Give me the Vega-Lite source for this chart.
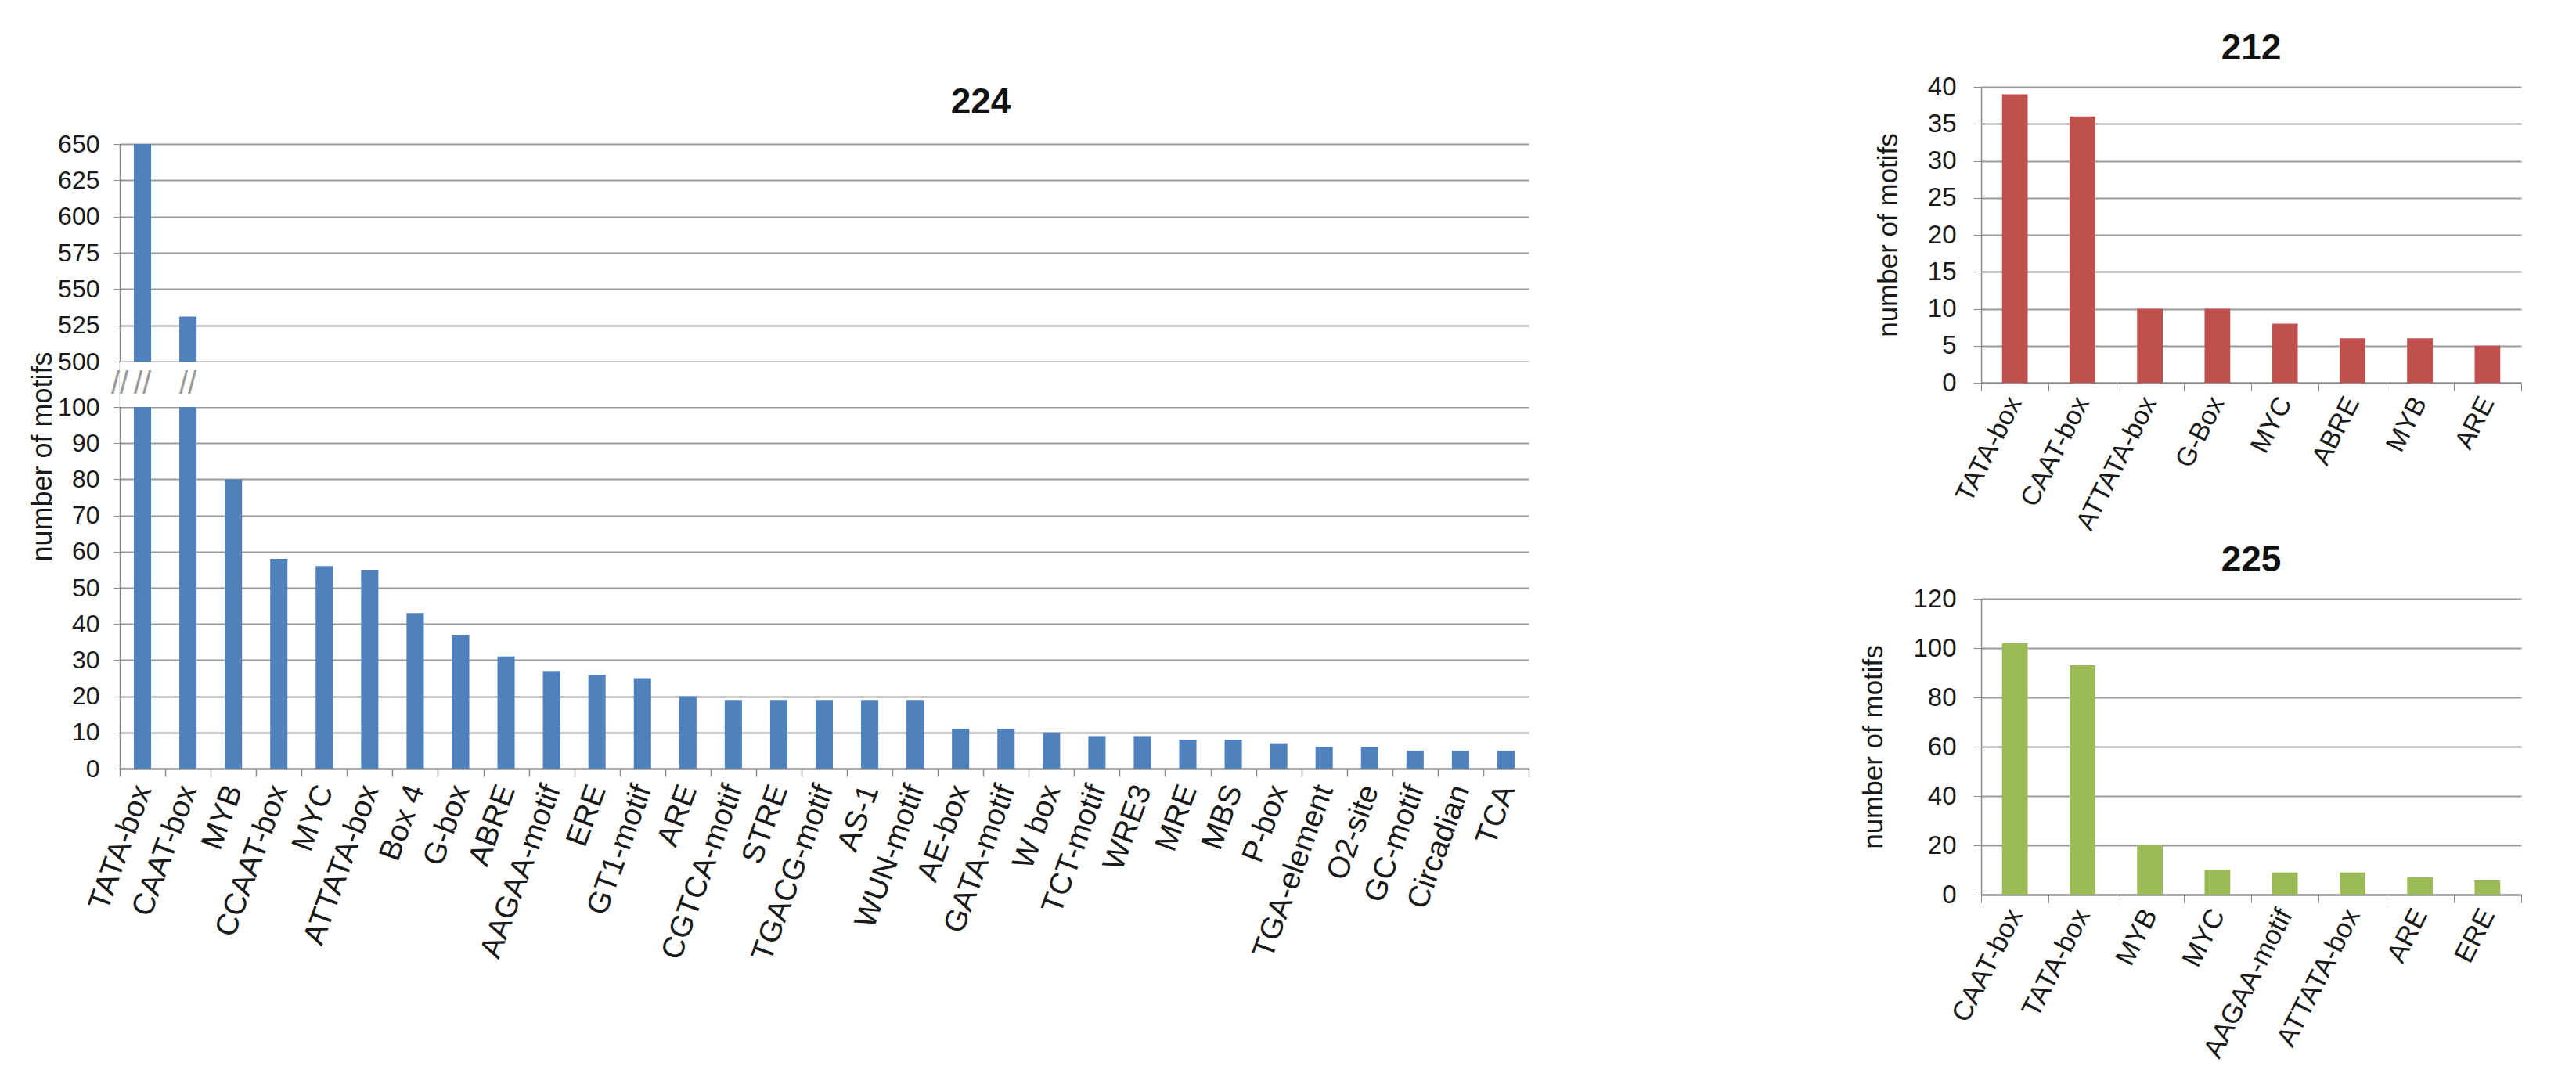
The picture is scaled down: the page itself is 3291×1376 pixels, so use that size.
{
  "$schema": "https://vega.github.io/schema/vega-lite/v6.json",
  "background": "white",
  "padding": {"left": 36, "top": 39, "right": 10, "bottom": 5},
  "config": {
    "view": {"stroke": null},
    "font": "Liberation Sans, Arial, sans-serif",
    "axis": {
      "gridColor": "#9a9a9a",
      "gridWidth": 2,
      "gridOpacity": 1,
      "domainColor": "#8a8a8a",
      "tickColor": "#8a8a8a",
      "labelColor": "#1a1a1a",
      "titleColor": "#1a1a1a",
      "titleFontWeight": "normal",
      "labelLimit": 0,
      "labelFont": "Liberation Sans, Arial, sans-serif",
      "titleFont": "Liberation Sans, Arial, sans-serif"
    },
    "title": {"fontWeight": "bold", "fontSize": 46, "color": "#111111", "font": "Liberation Sans, Arial, sans-serif"}
  },
  "datasets": {
    "p224": [
      {"motif": "TATA-box", "count": 650},
      {"motif": "CAAT-box", "count": 531},
      {"motif": "MYB", "count": 80},
      {"motif": "CCAAT-box", "count": 58},
      {"motif": "MYC", "count": 56},
      {"motif": "ATTATA-box", "count": 55},
      {"motif": "Box 4", "count": 43},
      {"motif": "G-box", "count": 37},
      {"motif": "ABRE", "count": 31},
      {"motif": "AAGAA-motif", "count": 27},
      {"motif": "ERE", "count": 26},
      {"motif": "GT1-motif", "count": 25},
      {"motif": "ARE", "count": 20},
      {"motif": "CGTCA-motif", "count": 19},
      {"motif": "STRE", "count": 19},
      {"motif": "TGACG-motif", "count": 19},
      {"motif": "AS-1", "count": 19},
      {"motif": "WUN-motif", "count": 19},
      {"motif": "AE-box", "count": 11},
      {"motif": "GATA-motif", "count": 11},
      {"motif": "W box", "count": 10},
      {"motif": "TCT-motif", "count": 9},
      {"motif": "WRE3", "count": 9},
      {"motif": "MRE", "count": 8},
      {"motif": "MBS", "count": 8},
      {"motif": "P-box", "count": 7},
      {"motif": "TGA-element", "count": 6},
      {"motif": "O2-site", "count": 6},
      {"motif": "GC-motif", "count": 5},
      {"motif": "Circadian", "count": 5},
      {"motif": "TCA", "count": 5}
    ],
    "gap": [{"lo": 100, "hi": 500}],
    "p212": [
      {"motif": "TATA-box", "count": 39},
      {"motif": "CAAT-box", "count": 36},
      {"motif": "ATTATA-box", "count": 10},
      {"motif": "G-Box", "count": 10},
      {"motif": "MYC", "count": 8},
      {"motif": "ABRE", "count": 6},
      {"motif": "MYB", "count": 6},
      {"motif": "ARE", "count": 5}
    ],
    "p225": [
      {"motif": "CAAT-box", "count": 102},
      {"motif": "TATA-box", "count": 93},
      {"motif": "MYB", "count": 20},
      {"motif": "MYC", "count": 10},
      {"motif": "AAGAA-motif", "count": 9},
      {"motif": "ATTATA-box", "count": 9},
      {"motif": "ARE", "count": 7},
      {"motif": "ERE", "count": 6}
    ]
  },
  "spacing": 422,
  "hconcat": [
    {
      "width": 1800,
      "height": 871,
      "title": {"text": "224", "offset": 0, "dx": 200, "dy": 44},
      "data": {"name": "p224"},
      "layer": [
        {
          "mark": {"type": "bar", "color": "#4F81BD", "width": {"band": 0.38}},
          "encoding": {
            "x": {
              "field": "motif", "type": "nominal", "sort": null,
              "scale": {"paddingInner": 0, "paddingOuter": 0},
              "axis": {"title": null, "labelAngle": -70, "labelFontSize": 39, "tickBand": "extent", "tickSize": 10, "domainWidth": 2, "tickWidth": 1.5, "labelPadding": 12}
            },
            "y": {
              "field": "count", "type": "quantitative",
              "scale": {"domain": [0, 100, 500, 650], "range": [871, 409, 351, 73], "nice": false, "zero": false},
              "axis": {
                "title": "number of motifs",
                "values": [0, 10, 20, 30, 40, 50, 60, 70, 80, 90, 100, 500, 525, 550, 575, 600, 625, 650],
                "labelFontSize": 32, "titleFontSize": 36, "tickSize": 8, "labelPadding": 18, "titlePadding": 0, "domainWidth": 1.5
              }
            }
          }
        },
        {
          "data": {"name": "gap"},
          "mark": {"type": "rect", "color": "white"},
          "encoding": {
            "y": {"field": "lo", "type": "quantitative"},
            "y2": {"field": "hi"}
          }
        },
        {
          "mark": {"type": "text", "fontSize": 40, "color": "#9a9a9a", "align": "center", "baseline": "middle"},
          "encoding": {
            "x": {"field": "motif", "type": "nominal", "sort": null, "bandPosition": 0},
            "y": {"datum": 300},
            "text": {"condition": {"test": "datum.motif === 'TATA-box'", "value": "//"}, "value": ""}
          }
        },
        {
          "mark": {"type": "text", "fontSize": 40, "color": "#9a9a9a", "align": "center", "baseline": "middle"},
          "encoding": {
            "x": {"field": "motif", "type": "nominal", "sort": null, "bandPosition": 0.5},
            "y": {"datum": 300},
            "text": {"condition": {"test": "datum.count > 500", "value": "//"}, "value": ""}
          }
        }
      ]
    },
    {
      "spacing": 10,
      "vconcat": [
        {
          "width": 690,
          "height": 378,
          "title": {"text": "212", "offset": 9},
          "data": {"name": "p212"},
          "mark": {"type": "bar", "color": "#C0504D", "width": {"band": 0.38}},
          "encoding": {
            "x": {
              "field": "motif", "type": "nominal", "sort": null,
              "scale": {"paddingInner": 0, "paddingOuter": 0},
              "axis": {"title": null, "labelAngle": -63, "labelFontSize": 34, "tickBand": "extent", "tickSize": 10, "domainWidth": 2, "labelPadding": 10}
            },
            "y": {
              "field": "count", "type": "quantitative",
              "scale": {"domain": [0, 40], "nice": false},
              "axis": {"title": "number of motifs", "values": [0, 5, 10, 15, 20, 25, 30, 35, 40], "labelFontSize": 33, "titleFontSize": 35, "tickSize": 10, "labelPadding": 22, "titlePadding": 32, "domainWidth": 1.5}
            }
          }
        },
        {
          "width": 690,
          "height": 378,
          "title": {"text": "225", "offset": 9},
          "data": {"name": "p225"},
          "mark": {"type": "bar", "color": "#9BBB59", "width": {"band": 0.38}},
          "encoding": {
            "x": {
              "field": "motif", "type": "nominal", "sort": null,
              "scale": {"paddingInner": 0, "paddingOuter": 0},
              "axis": {"title": null, "labelAngle": -63, "labelFontSize": 35, "tickBand": "extent", "tickSize": 10, "domainWidth": 2, "labelPadding": 10}
            },
            "y": {
              "field": "count", "type": "quantitative",
              "scale": {"domain": [0, 120], "nice": false},
              "axis": {"title": "number of motifs", "values": [0, 20, 40, 60, 80, 100, 120], "labelFontSize": 33, "titleFontSize": 35, "tickSize": 10, "labelPadding": 22, "titlePadding": 32, "domainWidth": 1.5}
            }
          }
        }
      ]
    }
  ]
}
